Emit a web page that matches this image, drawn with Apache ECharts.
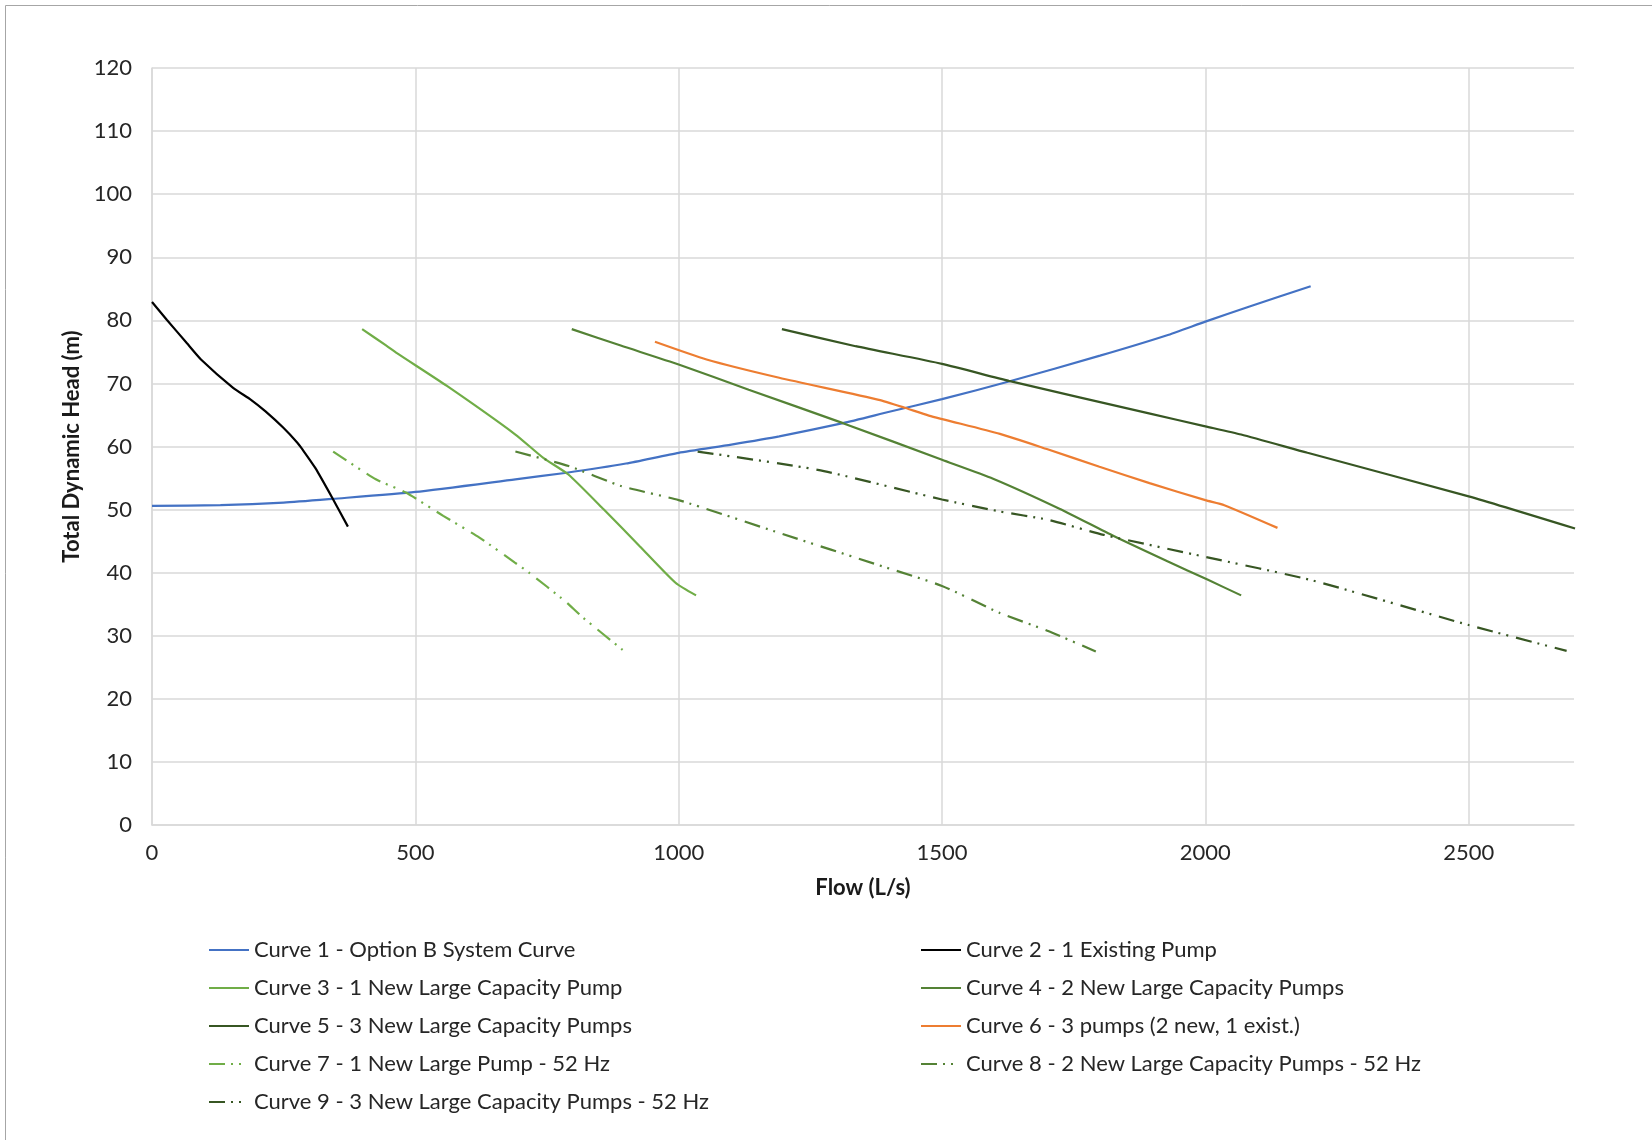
<!DOCTYPE html>
<html>
<head>
<meta charset="utf-8">
<script src="https://cdn.jsdelivr.net/npm/echarts@6/dist/echarts.min.js"></script>
<style>
html,body{margin:0;padding:0;background:#fff;}
#c{width:1652px;height:1140px;}
</style>
</head>
<body>
<div id="c"></div>
<script>
// ---- data (Flow L/s, Total Dynamic Head m) ----
const seriesNames = [
  'Curve 1 - Option B System Curve',
  'Curve 2 - 1 Existing Pump',
  'Curve 3 - 1 New Large Capacity Pump',
  'Curve 4 - 2 New Large Capacity Pumps',
  'Curve 5 - 3 New Large Capacity Pumps',
  'Curve 6 - 3 pumps (2 new, 1 exist.)',
  'Curve 7 - 1 New Large Pump - 52 Hz',
  'Curve 8 - 2 New Large Capacity Pumps - 52 Hz',
  'Curve 9 - 3 New Large Capacity Pumps - 52 Hz'
];
const curve1 = [[0,50.6],[130,50.7],[250,51.1],[343,51.7],[500,52.8],[690,54.8],[784,55.8],[900,57.3],[1000,59.0],[1100,60.3],[1191,61.6],[1312,63.7],[1400,65.5],[1500,67.5],[1627,70.3],[1800,74.4],[1926,77.6],[2000,79.8],[2084,82.2],[2200,85.4]];
const curve2 = [[0,82.9],[28,80.1],[66,76.4],[93,73.8],[154,69.3],[188,67.4],[215,65.6],[249,63.0],[276,60.6],[286,59.5],[310,56.6],[344,51.6],[372,47.3]];
const curve3 = [[399,78.6],[445,76.0],[465,74.8],[560,69.6],[690,61.9],[743,58.2],[790,55.6],[858,50.0],[926,44.2],[994,38.4],[1033,36.4]];
const curve4 = [[797,78.6],[890,76.0],[1000,73.0],[1133,69.0],[1312,63.7],[1500,57.9],[1597,54.9],[1724,50.1],[1826,45.8],[1928,41.8],[2004,38.9],[2068,36.4]];
const curve5 = [[1196,78.6],[1336,75.9],[1500,73.1],[1627,70.4],[1895,65.2],[2000,63.2],[2068,61.9],[2194,59.0],[2500,52.1],[2702,47.0]];
const curve6 = [[955,76.6],[1053,73.8],[1191,70.9],[1380,67.4],[1431,66.1],[1475,64.9],[1610,62.0],[1699,59.6],[1799,56.8],[1894,54.2],[2000,51.5],[2036,50.7],[2137,47.1]];
const curve7 = [[344,59.2],[425,54.8],[482,52.7],[553,49.0],[621,45.6],[689,41.6],[716,40.0],[784,35.5],[818,32.9],[896,27.6]];
const curve8 = [[690,59.2],[791,56.9],[892,53.7],[1000,51.5],[1191,46.3],[1387,41.0],[1500,37.9],[1610,33.6],[1700,30.8],[1792,27.5]];
const curve9 = [[1036,59.2],[1264,56.3],[1500,51.6],[1610,49.7],[1700,48.4],[1807,46.0],[2000,42.5],[2202,38.8],[2500,31.7],[2686,27.6]];

const xTicks = [0,500,1000,1500,2000,2500];
const yTicks = [0,10,20,30,40,50,60,70,80,90,100,110,120];

const colors = ['#4472C4','#000000','#70AD47','#548235','#375623','#ED7D31','#70AD47','#548235','#375623'];
const dataSets = [curve1,curve2,curve3,curve4,curve5,curve6,curve7,curve8,curve9];
const dashDotDot = [16,6,2,6,2,8];

const series = dataSets.map((d,i)=>({
  name: seriesNames[i],
  type: 'line',
  data: d,
  symbol: 'none',
  showSymbol: false,
  smooth: 0.2,
  lineStyle: {color: colors[i], width: 2.2, type: i>=6 ? dashDotDot : 'solid'},
  itemStyle: {color: colors[i]},
  emphasis: {disabled: true},
  z: 3
}));

const FONT = 'Lato, "Open Sans", sans-serif';
const legendCommon = {
  orient: 'vertical',
  padding: 0,
  itemWidth: 40,
  itemHeight: 14,
  itemGap: 14,
  itemStyle: {color: 'rgba(0,0,0,0)', borderWidth: 0, opacity: 0},
  textStyle: {fontFamily: FONT, fontSize: 22, color: '#262626', lineHeight: 24},
  selectedMode: false
};

const chart = echarts.init(document.getElementById('c'), null, {renderer:'canvas'});
chart.setOption({
  animation: false,
  backgroundColor: '#fff',
  grid: {left: 152, right: 78, top: 68, bottom: 315},
  xAxis: {
    type: 'value', min: 0, max: 2700, interval: 500,
    name: 'Flow (L/s)', nameLocation: 'middle', nameGap: 52,
    nameTextStyle: {fontFamily: FONT, fontSize: 22, fontWeight: 'bold', color: '#1a1a1a'},
    axisLine: {show: true, lineStyle: {color: '#d9d9d9', width: 1.5}},
    axisTick: {show: false},
    axisLabel: {fontFamily: FONT, fontSize: 22, color: '#262626', margin: 17, showMaxLabel: false,
      formatter: v => xTicks.includes(v) ? String(v) : ''},
    splitLine: {show: true, showMaxLine: false, lineStyle: {color: '#d9d9d9', width: 1.5}}
  },
  yAxis: {
    type: 'value', min: 0, max: 120, interval: 10,
    name: 'Total Dynamic Head (m)', nameLocation: 'middle', nameGap: 68,
    nameTextStyle: {fontFamily: FONT, fontSize: 22, fontWeight: 'bold', color: '#1a1a1a'},
    axisLine: {show: true, lineStyle: {color: '#d9d9d9', width: 1.5}},
    axisTick: {show: false},
    axisLabel: {fontFamily: FONT, fontSize: 22, color: '#262626', margin: 20,
      formatter: v => yTicks.includes(v) ? String(v) : ''},
    splitLine: {show: true, lineStyle: {color: '#d9d9d9', width: 1.5}}
  },
  legend: [
    Object.assign({}, legendCommon, {left: 208, top: 938, data: [seriesNames[0],seriesNames[2],seriesNames[4],seriesNames[6],seriesNames[8]]}),
    Object.assign({}, legendCommon, {left: 920, top: 938, data: [seriesNames[1],seriesNames[3],seriesNames[5],seriesNames[7]]})
  ],
  graphic: [{
    type: 'rect', left: 3, top: 3, silent: true,
    shape: {width: 1700, height: 1200},
    style: {fill: 'none', stroke: '#a6a6a6', lineWidth: 1}
  }],
  series: series
});
</script>
</body>
</html>
